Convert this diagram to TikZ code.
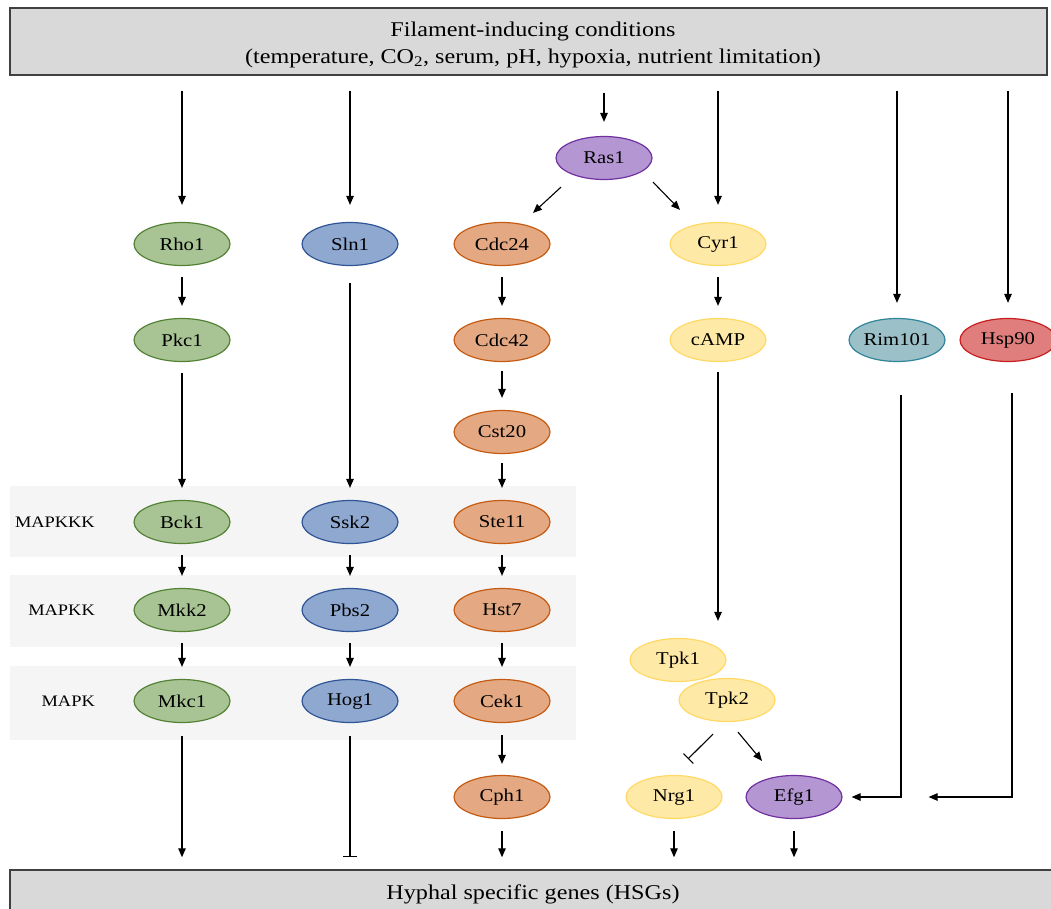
\documentclass[tikz,border=0pt]{standalone}
\usepackage{fontspec}
\setmainfont[FakeStretch=1.15]{Liberation Serif}
\usetikzlibrary{shapes.geometric,arrows.meta}
\definecolor{gFill}{HTML}{A9C494}
\definecolor{gEdge}{HTML}{548235}
\definecolor{bFill}{HTML}{8FA8D0}
\definecolor{bEdge}{HTML}{2F5597}
\definecolor{oFill}{HTML}{E4A983}
\definecolor{oEdge}{HTML}{C55A11}
\definecolor{yFill}{HTML}{FFE9A6}
\definecolor{yEdge}{HTML}{FFD966}
\definecolor{pFill}{HTML}{B497D2}
\definecolor{pEdge}{HTML}{7030A0}
\definecolor{tFill}{HTML}{9BC0C7}
\definecolor{tEdge}{HTML}{31849B}
\definecolor{rFill}{HTML}{E07D7D}
\definecolor{rEdge}{HTML}{C81E1E}
\definecolor{boxFill}{HTML}{D9D9D9}
\definecolor{boxEdge}{HTML}{404040}
\definecolor{bandFill}{HTML}{F5F5F5}
\begin{document}
\begin{tikzpicture}[x=1pt,y=-1pt,
  prot/.style={ellipse, minimum width=96pt, minimum height=43pt, inner sep=0pt, line width=1.2pt, font=\fontsize{18}{20}\selectfont},
  pgreen/.style={prot, draw=gEdge, fill=gFill},
  pblue/.style={prot, draw=bEdge, fill=bFill},
  porange/.style={prot, draw=oEdge, fill=oFill},
  pyellow/.style={prot, draw=yEdge, fill=yFill},
  ppurple/.style={prot, draw=pEdge, fill=pFill},
  pteal/.style={prot, draw=tEdge, fill=tFill},
  pred/.style={prot, draw=rEdge, fill=rFill},
  hbox/.style={rectangle, draw=boxEdge, fill=boxFill, line width=1.5pt, inner sep=0pt},
  htext/.style={align=center, inner sep=0pt, font=\fontsize{21}{27}\selectfont},
  lvl/.style={anchor=east, inner sep=0pt, font=\fontsize{16}{20}\selectfont},
  arr/.style={-{Triangle[length=9pt,width=7.5pt]}, line width=1.1pt},
  inh/.style={-{Bar[width=14pt,line width=1.1pt]}, line width=1.1pt}
]
\useasboundingbox (0,0) rectangle (1051,909);

% bands
\fill[bandFill] (10,486) rectangle (576,557);
\fill[bandFill] (10,575) rectangle (576,647);
\fill[bandFill] (10,666) rectangle (576,740);
\node[lvl] (l1) at (95,522) {MAPKKK};
\node[lvl] (l2) at (95,610) {MAPKK};
\node[lvl] (l3) at (95,701) {MAPK};

% boxes
\node[hbox, minimum width=1037pt, minimum height=67pt] (top) at (528.5,41.5) {};
\node[htext] (toptext) at (533,45)
  {Filament-inducing conditions\\(temperature, CO\textsubscript{2}, serum, pH, hypoxia, nutrient limitation)};
\node[hbox, minimum width=1050pt, minimum height=46pt] (bot) at (535,893) {};
\node[htext] (bottext) at (533,894) {Hyphal specific genes (HSGs)};

% proteins
\node[pgreen] (rho1) at (182,244) {Rho1};
\node[pgreen] (pkc1) at (182,340) {Pkc1};
\node[pgreen] (bck1) at (182,522) {Bck1};
\node[pgreen] (mkk2) at (182,610) {Mkk2};
\node[pgreen] (mkc1) at (182,701) {Mkc1};

\node[pblue] (sln1) at (350,244) {Sln1};
\node[pblue] (ssk2) at (350,522) {Ssk2};
\node[pblue] (pbs2) at (350,610) {Pbs2};
\node[pblue] (hog1) at (350,701) {Hog1};

\node[ppurple] (ras1) at (604,158) {Ras1};
\node[porange] (cdc24) at (502,244) {Cdc24};
\node[porange] (cdc42) at (502,340) {Cdc42};
\node[porange] (cst20) at (502,432) {Cst20};
\node[porange] (ste11) at (502,522) {Ste11};
\node[porange] (hst7) at (502,610) {Hst7};
\node[porange] (cek1) at (502,701) {Cek1};
\node[porange] (cph1) at (502,797) {Cph1};

\node[pyellow] (cyr1) at (718,244) {Cyr1};
\node[pyellow] (camp) at (718,340) {cAMP};
\node[pyellow] (tpk1) at (678,660) {Tpk1};
\node[pyellow] (tpk2) at (727,700) {Tpk2};
\node[pyellow] (nrg1) at (674,797) {Nrg1};
\node[ppurple] (efg1) at (794,797) {Efg1};

\node[pteal] (rim101) at (897,340) {Rim101};
\node[pred] (hsp90) at (1008,340) {Hsp90};

% arrows from top
\draw[arr, shorten <=15pt, shorten >=17pt] (rho1 |- top.south) -- (rho1);
\draw[arr, shorten <=15pt, shorten >=17pt] (sln1 |- top.south) -- (sln1);
\draw[arr, shorten <=17pt, shorten >=14pt] (ras1 |- top.south) -- (ras1);
\draw[arr, shorten <=15pt, shorten >=17pt] (cyr1 |- top.south) -- (cyr1);
\draw[arr, shorten <=15pt, shorten >=15pt] (rim101 |- top.south) -- (rim101);
\draw[arr, shorten <=15pt, shorten >=15pt] (hsp90 |- top.south) -- (hsp90);

% Ras1 branches
\draw[arr] ([xshift=-43pt,yshift=-7pt]ras1.south) -- ([xshift=31pt,yshift=9pt]cdc24.north);
\draw[arr] ([xshift=49pt,yshift=-2pt]ras1.south) -- ([xshift=-38pt,yshift=12pt]cyr1.north);

% vertical chains
\draw[arr, shorten <=11pt, shorten >=12pt] (rho1) -- (pkc1);
\draw[arr, shorten <=11pt, shorten >=12pt] (pkc1) -- (bck1);
\draw[arr, shorten <=11pt, shorten >=12pt] (bck1) -- (mkk2);
\draw[arr, shorten <=11pt, shorten >=12pt] (mkk2) -- (mkc1);
\draw[arr, shorten <=17pt, shorten >=12pt] (sln1) -- (ssk2);
\draw[arr, shorten <=11pt, shorten >=12pt] (ssk2) -- (pbs2);
\draw[arr, shorten <=11pt, shorten >=12pt] (pbs2) -- (hog1);
\draw[arr, shorten <=11pt, shorten >=12pt] (cdc24) -- (cdc42);
\draw[arr, shorten <=9pt, shorten >=12pt] (cdc42) -- (cst20);
\draw[arr, shorten <=9pt, shorten >=12pt] (cst20) -- (ste11);
\draw[arr, shorten <=11pt, shorten >=12pt] (ste11) -- (hst7);
\draw[arr, shorten <=11pt, shorten >=12pt] (hst7) -- (cek1);
\draw[arr, shorten <=12pt, shorten >=11pt] (cek1) -- (cph1);
\draw[arr, shorten <=11pt, shorten >=12pt] (cyr1) -- (camp);
\draw[arr, shorten <=10pt, shorten >=17pt] (camp) -- (camp |- tpk1.north);

% Tpk2 branches
\draw[inh] ([xshift=-14pt,yshift=-12pt]tpk2.south) -- ([xshift=14pt,yshift=16pt]nrg1.north);
\draw[arr] ([xshift=11pt,yshift=-10pt]tpk2.south) -- ([xshift=-32pt,yshift=14pt]efg1.north);

% Rim101, Hsp90 to Efg1
\draw[arr, shorten <=33pt, shorten >=9pt] ([xshift=4pt]rim101.south) |- (efg1.east);
\draw[arr, shorten <=31pt, shorten >=86pt] ([xshift=4pt]hsp90.south) |- (efg1.east);

% to HSGs
\draw[arr, shorten <=13pt, shorten >=12pt] (mkc1) -- (mkc1 |- bot.north);
\draw[inh, shorten <=13pt, shorten >=12pt] (hog1) -- (hog1 |- bot.north);
\draw[arr, shorten <=12pt, shorten >=12pt] (cph1) -- (cph1 |- bot.north);
\draw[arr, shorten <=12pt, shorten >=12pt] (nrg1) -- (nrg1 |- bot.north);
\draw[arr, shorten <=12pt, shorten >=12pt] (efg1) -- (efg1 |- bot.north);
\end{tikzpicture}
\end{document}
